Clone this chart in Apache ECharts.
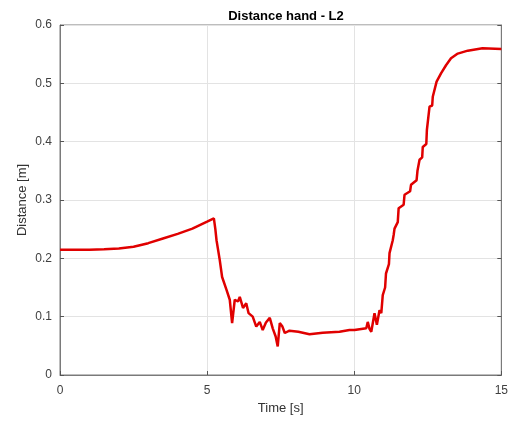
<!DOCTYPE html>
<html>
<head>
<meta charset="utf-8">
<script src="https://cdn.jsdelivr.net/npm/echarts@6/dist/echarts.min.js"></script>
<style>
  html, body { margin: 0; padding: 0; background: #fff; }
  #main { width: 511px; height: 423px; }
</style>
</head>
<body>
<div id="main"></div>
<script>
// 时间 (s)
var time = [0, 1.0, 1.5, 2.0, 2.5, 3.0, 3.5, 4.0, 4.5, 4.75, 5.0, 5.23, 5.28, 5.32, 5.43, 5.51, 5.66, 5.77, 5.85, 5.94, 6.05, 6.11, 6.22, 6.33, 6.41, 6.55, 6.67, 6.79, 6.89, 7.0, 7.13, 7.23, 7.33, 7.4, 7.47, 7.56, 7.64, 7.8, 8.1, 8.48, 8.93, 9.5, 9.84, 10.01, 10.41, 10.46, 10.52, 10.58, 10.69, 10.77, 10.86, 10.92, 10.97, 11.05, 11.08, 11.18, 11.2, 11.31, 11.34, 11.37, 11.48, 11.51, 11.68, 11.71, 11.9, 11.93, 12.12, 12.15, 12.22, 12.31, 12.33, 12.45, 12.47, 12.56, 12.65, 12.67, 12.8, 12.95, 13.12, 13.29, 13.52, 13.86, 14.36, 15];
// 距离 (m)
var distance = [0.2146, 0.2147, 0.2155, 0.217, 0.2198, 0.226, 0.234, 0.242, 0.251, 0.257, 0.263, 0.2686, 0.25, 0.231, 0.197, 0.168, 0.146, 0.129, 0.089, 0.129, 0.126, 0.134, 0.115, 0.123, 0.106, 0.1, 0.083, 0.091, 0.077, 0.09, 0.098, 0.08, 0.066, 0.049, 0.089, 0.083, 0.072, 0.076, 0.074, 0.070, 0.0726, 0.074, 0.077, 0.077, 0.08, 0.091, 0.079, 0.074, 0.106, 0.086, 0.111, 0.106, 0.137, 0.15, 0.174, 0.19, 0.209, 0.231, 0.24, 0.251, 0.262, 0.286, 0.292, 0.309, 0.315, 0.326, 0.334, 0.35, 0.369, 0.373, 0.391, 0.396, 0.42, 0.46, 0.462, 0.477, 0.503, 0.517, 0.531, 0.543, 0.551, 0.556, 0.560, 0.559];
var xTicks = [0, 5, 10, 15];
var yTicks = [0, 0.1, 0.2, 0.3, 0.4, 0.5, 0.6];

var myChart = echarts.init(document.getElementById("main"));
var seriesData = time.map(function (t, i) { return [t, distance[i]]; });

var tickColor = "#404040";
var option = {
  backgroundColor: "#fff",
  animation: false,
  title: {
    text: "Distance hand - L2",
    left: 281,
    textAlign: "center",
    top: 5,
    textStyle: { color: "#000", fontSize: 13, fontWeight: "bold", fontFamily: "Liberation Sans" }
  },
  grid: {
    left: 60, right: 9, top: 25, bottom: 48,
    show: true, borderColor: "#7a7a7a", borderWidth: 1
  },
  xAxis: {
    type: "value",
    min: 0, max: 15, interval: 5,
    name: "Time [s]",
    nameLocation: "middle",
    nameGap: 22,
    nameTextStyle: { color: "#333", fontSize: 13, fontFamily: "Liberation Sans" },
    axisLine: { lineStyle: { color: "#7a7a7a" } },
    axisTick: { inside: true, length: 4, lineStyle: { color: "#555" } },
    axisLabel: {
      color: tickColor, fontSize: 12, margin: 10, fontFamily: "Liberation Sans",
      formatter: function (v) { return xTicks.indexOf(v) >= 0 ? String(v) : ""; }
    },
    splitLine: { show: true, lineStyle: { color: "#e3e3e3" } }
  },
  yAxis: [{
    type: "value",
    min: 0, max: 0.6, interval: 0.1,
    name: "Distance [m]",
    nameLocation: "middle",
    nameGap: 31,
    nameMoveOverlap: false,
    nameTextStyle: { color: "#333", fontSize: 13, fontFamily: "Liberation Sans" },
    axisLine: { show: true, lineStyle: { color: "#7a7a7a" } },
    axisTick: { show: true, inside: true, length: 4, lineStyle: { color: "#555" } },
    axisLabel: {
      color: tickColor, fontSize: 12, margin: 8, fontFamily: "Liberation Sans",
      formatter: function (v) { return yTicks.indexOf(Math.round(v * 10) / 10) >= 0 ? String(Math.round(v * 10) / 10) : ""; }
    },
    splitLine: { show: true, lineStyle: { color: "#e3e3e3" } }
  }, {
    type: "value",
    position: "right",
    min: 0, max: 0.6, interval: 0.1,
    axisLine: { show: true, lineStyle: { color: "#7a7a7a" } },
    axisTick: { show: true, inside: true, length: 4, lineStyle: { color: "#555" } },
    axisLabel: { show: false },
    splitLine: { show: false }
  }],
  series: [{
    type: "line",
    data: seriesData,
    showSymbol: false,
    smooth: false,
    lineStyle: { color: "#e00000", width: 2.5 }
  }]
};
myChart.setOption(option);
window.addEventListener("resize", function () {
  myChart.resize();
});
</script>
</body>
</html>
